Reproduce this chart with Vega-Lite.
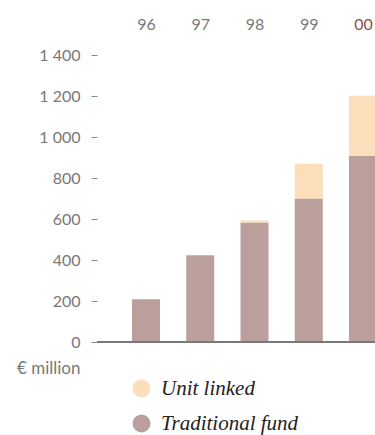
{
  "$schema": "https://vega.github.io/schema/vega-lite/v6.json",
  "autosize": "none",
  "width": 278,
  "height": 287,
  "padding": {"left": 97, "top": 55, "right": 0, "bottom": 93},
  "background": "white",
  "config": {"view": {"stroke": null}},
  "data": {"values": [
    {"year": 1996, "type": "Traditional fund", "value": 209},
    {"year": 1997, "type": "Traditional fund", "value": 423},
    {"year": 1998, "type": "Traditional fund", "value": 583},
    {"year": 1998, "type": "Unit linked", "value": 10},
    {"year": 1999, "type": "Traditional fund", "value": 700},
    {"year": 1999, "type": "Unit linked", "value": 170},
    {"year": 2000, "type": "Traditional fund", "value": 909},
    {"year": 2000, "type": "Unit linked", "value": 292}
  ]},
  "layer": [
    {
      "mark": {"type": "bar", "size": 28},
      "encoding": {
        "x": {"field": "year", "type": "quantitative",
          "scale": {"domain": [1995.097, 2000.221], "nice": false, "zero": false, "padding": 0},
          "axis": {"orient": "top", "values": [1996, 1997, 1998, 1999, 2000], "title": null,
            "domain": false, "ticks": false, "grid": false, "labelPadding": 26, "labelBaseline": "alphabetic",
            "labelExpr": "substring(toString(datum.value), 2)",
            "labelFont": "Lato", "labelFontSize": 16,
            "labelColor": {"expr": "datum.value == 2000 ? '#8c4f4f' : '#787878'"}}},
        "y": {"field": "value", "type": "quantitative", "aggregate": "sum",
          "scale": {"domain": [0, 1400], "nice": false},
          "axis": {"values": [0, 200, 400, 600, 800, 1000, 1200, 1400], "grid": false, "domain": false,
            "tickSize": 6, "tickColor": "#8a8a8a", "labelPadding": 11,
            "labelExpr": "replace(format(datum.value, ','), ',', ' ')",
            "labelFont": "Lato", "labelFontSize": 16, "labelColor": "#787878",
            "title": "€ million", "titleAngle": 0, "titleAlign": "right", "titleBaseline": "alphabetic",
            "titleX": -17, "titleY": 318, "titleFont": "Lato", "titleFontWeight": "normal",
            "titleFontSize": 17, "titleColor": "#787878"}},
        "color": {"field": "type", "type": "nominal",
          "scale": {"domain": ["Unit linked", "Traditional fund"], "range": ["#fcdebb", "#bb9f9c"]},
          "legend": {"orient": "none", "legendX": 34, "legendY": 323, "title": null,
            "symbolType": "circle", "symbolSize": 324, "symbolStrokeWidth": 0, "symbolOpacity": 1,
            "labelFont": "Liberation Serif", "labelFontStyle": "italic", "labelFontSize": 21,
            "labelColor": "#222222", "labelOffset": 9, "rowPadding": 13}},
        "order": {"field": "type", "type": "nominal", "sort": "ascending"}
      }
    },
    {
      "mark": {"type": "rule", "color": "#7a7a7a", "strokeWidth": 1.5},
      "encoding": {"y": {"datum": 0}}
    }
  ]
}
